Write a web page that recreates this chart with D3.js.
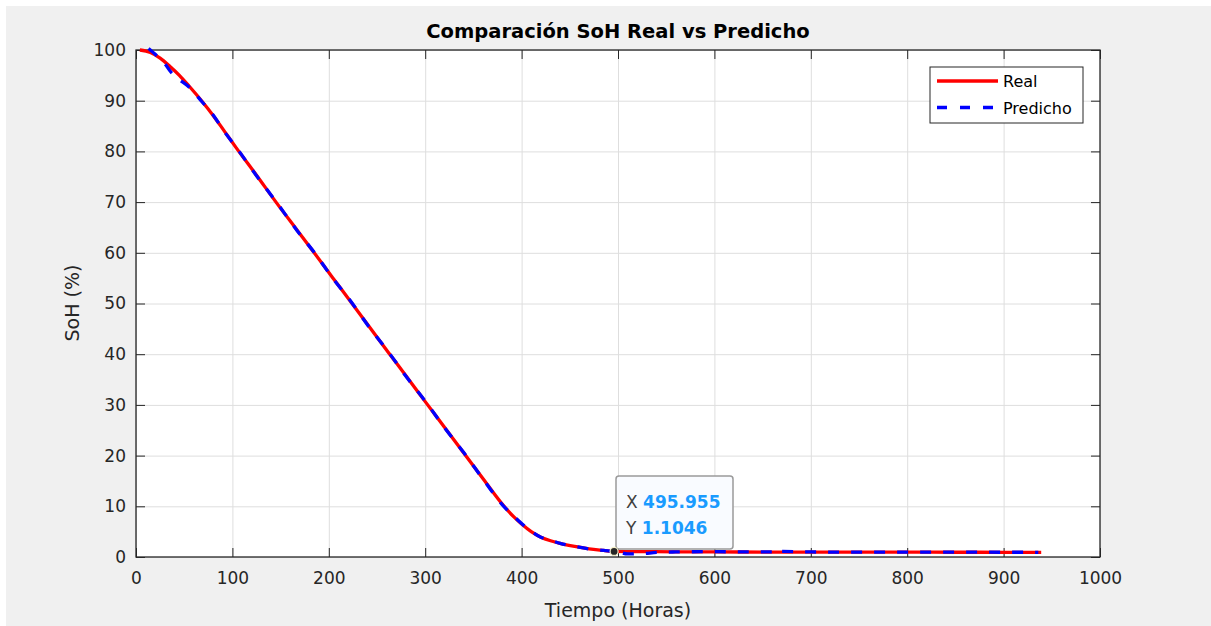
<!DOCTYPE html>
<html>
<head>
<meta charset="utf-8">
<script src="https://cdn.jsdelivr.net/npm/d3@7"></script>
<style>
  body { margin: 0; background: #fff; }
  svg text { font-family: "DejaVu Sans", "Liberation Sans", sans-serif; }
</style>
</head>
<body>
<svg id="chart" width="1211" height="626"></svg>
<script>
// datos
const hoursReal = [4, 15, 25, 35, 45, 55, 68, 80, 92, 104, 125, 146, 167, 186, 204, 221, 242, 262, 281, 301, 320, 340, 361, 381, 392, 400, 410, 420, 430, 440, 455, 470, 485, 496, 520, 560, 600, 650, 700, 750, 800, 850, 900, 939]
const sohReal = [100, 99.5, 98.4, 96.8, 95.0, 92.9, 90, 87.1, 83.9, 80.7, 75.3, 69.8, 64.5, 59.7, 55.1, 50.8, 45.4, 40.3, 35.5, 30.4, 25.6, 20.5, 15.2, 10.2, 7.9, 6.5, 5.0, 3.9, 3.2, 2.7, 2.1, 1.6, 1.3, 1.1046, 1.06, 1.03, 1.0, 0.98, 0.97, 0.96, 0.95, 0.94, 0.93, 0.93]

const hoursPred = [13, 22, 30, 36, 42, 55, 68, 80, 92, 104, 125, 146, 167, 186, 204, 221, 242, 262, 281, 301, 320, 340, 361, 381, 392, 400, 410, 420, 430, 440, 455, 470, 485, 500, 510, 525, 540, 560, 600, 640, 660, 664, 670, 700, 750, 800, 850, 900, 936]
const sohPred = [100.3, 98.8, 97.3, 95.7, 94.6, 92.7, 89.9, 87.2, 83.8, 80.8, 75.2, 69.9, 64.4, 59.8, 55.0, 50.9, 45.3, 40.4, 35.4, 30.5, 25.5, 20.6, 15.1, 10.1, 8.0, 6.6, 5.1, 3.9, 3.3, 2.7, 2.1, 1.6, 1.3, 1.0, 0.6, 0.65, 0.9, 1.0, 1.05, 1.0, 1.0, 1.6, 1.1, 1.0, 0.95, 0.97, 0.95, 0.94, 0.93]

const xTicks = [0, 100, 200, 300, 400, 500, 600, 700, 800, 900, 1000]
const yTicks = [0, 10, 20, 30, 40, 50, 60, 70, 80, 90, 100]
const seriesNames = ['Real', 'Predicho']
const tipX = 495.955
const tipY = 1.1046

const svg = d3.select('#chart')
const mLeft = 136, mTop = 50, mRight = 1100, mBottom = 557
const ink = '#262626'

svg.append('rect').attr('x', 6).attr('y', 6).attr('width', 1205).attr('height', 620).attr('fill', '#f0f0f0')
svg.append('rect').attr('x', mLeft).attr('y', mTop).attr('width', mRight - mLeft).attr('height', mBottom - mTop).attr('fill', '#fff')

const x = d3.scaleLinear().domain([0, 1000]).range([mLeft, mRight])
const y = d3.scaleLinear().domain([0, 100]).range([mBottom, mTop])

// rejilla
svg.append('g').attr('transform', `translate(0,${mBottom})`)
  .call(d3.axisBottom(x).tickValues(xTicks).tickSize(-(mBottom - mTop)).tickFormat(''))
  .call(g => g.select('.domain').remove())
  .call(g => g.selectAll('line').attr('stroke', '#dedede'))
svg.append('g').attr('transform', `translate(${mLeft},0)`)
  .call(d3.axisLeft(y).tickValues(yTicks).tickSize(-(mRight - mLeft)).tickFormat(''))
  .call(g => g.select('.domain').remove())
  .call(g => g.selectAll('line').attr('stroke', '#dedede'))

// ejes con marcas hacia dentro
const styleAxis = g => {
  g.select('.domain').remove()
  g.selectAll('line').attr('stroke', ink)
  g.selectAll('text').attr('fill', ink).style('font-size', '17px')
}
svg.append('g').attr('transform', `translate(0,${mBottom})`)
  .call(d3.axisBottom(x).tickValues(xTicks).tickSize(-9).tickPadding(15).tickFormat(d3.format('d')))
  .call(styleAxis)
svg.append('g').attr('transform', `translate(0,${mTop})`)
  .call(d3.axisTop(x).tickValues(xTicks).tickSize(-9).tickFormat(''))
  .call(styleAxis)
svg.append('g').attr('transform', `translate(${mLeft},0)`)
  .call(d3.axisLeft(y).tickValues(yTicks).tickSize(-9).tickPadding(10))
  .call(styleAxis)
svg.append('g').attr('transform', `translate(${mRight},0)`)
  .call(d3.axisRight(y).tickValues(yTicks).tickSize(-9).tickFormat(''))
  .call(styleAxis)

svg.append('rect').attr('x', mLeft).attr('y', mTop).attr('width', mRight - mLeft).attr('height', mBottom - mTop)
  .attr('fill', 'none').attr('stroke', ink).attr('stroke-width', 1.3)

// curvas
const line = d3.line().curve(d3.curveMonotoneX).x(d => x(d[0])).y(d => y(d[1]))
svg.append('path').datum(d3.zip(hoursReal, sohReal)).attr('d', line)
  .attr('fill', 'none').attr('stroke', '#ff0000').attr('stroke-width', 3.3).attr('stroke-linejoin', 'round')
svg.append('path').datum(d3.zip(hoursPred, sohPred)).attr('d', line)
  .attr('fill', 'none').attr('stroke', '#0000ff').attr('stroke-width', 3.3).attr('stroke-dasharray', '11,12')

// textos
svg.append('text').attr('x', (mLeft + mRight) / 2).attr('y', 38).attr('text-anchor', 'middle')
  .style('font-size', '19.5px').style('font-weight', 'bold').attr('fill', '#000')
  .text('Comparación SoH Real vs Predicho')
svg.append('text').attr('x', (mLeft + mRight) / 2).attr('y', 617).attr('text-anchor', 'middle')
  .style('font-size', '19px').attr('fill', ink).text('Tiempo (Horas)')
svg.append('text').attr('transform', 'translate(79,303) rotate(-90)').attr('text-anchor', 'middle')
  .style('font-size', '19px').attr('fill', ink).text('SoH (%)')

// leyenda
const leg = svg.append('g')
leg.append('rect').attr('x', 930).attr('y', 67).attr('width', 153).attr('height', 56)
  .attr('fill', '#fff').attr('stroke', ink).attr('stroke-width', 1)
const legStyles = [{ c: '#ff0000', dash: null }, { c: '#0000ff', dash: '10,13' }]
seriesNames.forEach((name, i) => {
  const ly = 81 + i * 26.5
  leg.append('line').attr('x1', 937).attr('x2', 998).attr('y1', ly).attr('y2', ly)
    .attr('stroke', legStyles[i].c).attr('stroke-width', 3.5).attr('stroke-dasharray', legStyles[i].dash)
  leg.append('text').attr('x', 1003).attr('y', ly + 6).style('font-size', '16px').attr('fill', '#000').text(name)
})

// etiqueta de dato
const tip = svg.append('g')
tip.append('rect').attr('x', 616).attr('y', 476).attr('width', 117).attr('height', 73).attr('rx', 3)
  .attr('fill', '#f9fbff').attr('stroke', '#9a9a9a').attr('stroke-width', 1.5)
const tipRows = [['X', tipX], ['Y', tipY]]
tipRows.forEach((r, i) => {
  const t = tip.append('text').attr('x', 626).attr('y', 508 + i * 26).style('font-size', '17px')
  t.append('tspan').attr('fill', '#404040').text(r[0] + ' ')
  t.append('tspan').attr('fill', '#1a9bff').style('font-weight', 'bold').text(r[1])
})
tip.append('circle').attr('cx', x(tipX)).attr('cy', y(tipY)).attr('r', 4)
  .attr('fill', '#262626').attr('stroke', '#f5f0c8').attr('stroke-width', 1.2)
</script>
</body>
</html>
